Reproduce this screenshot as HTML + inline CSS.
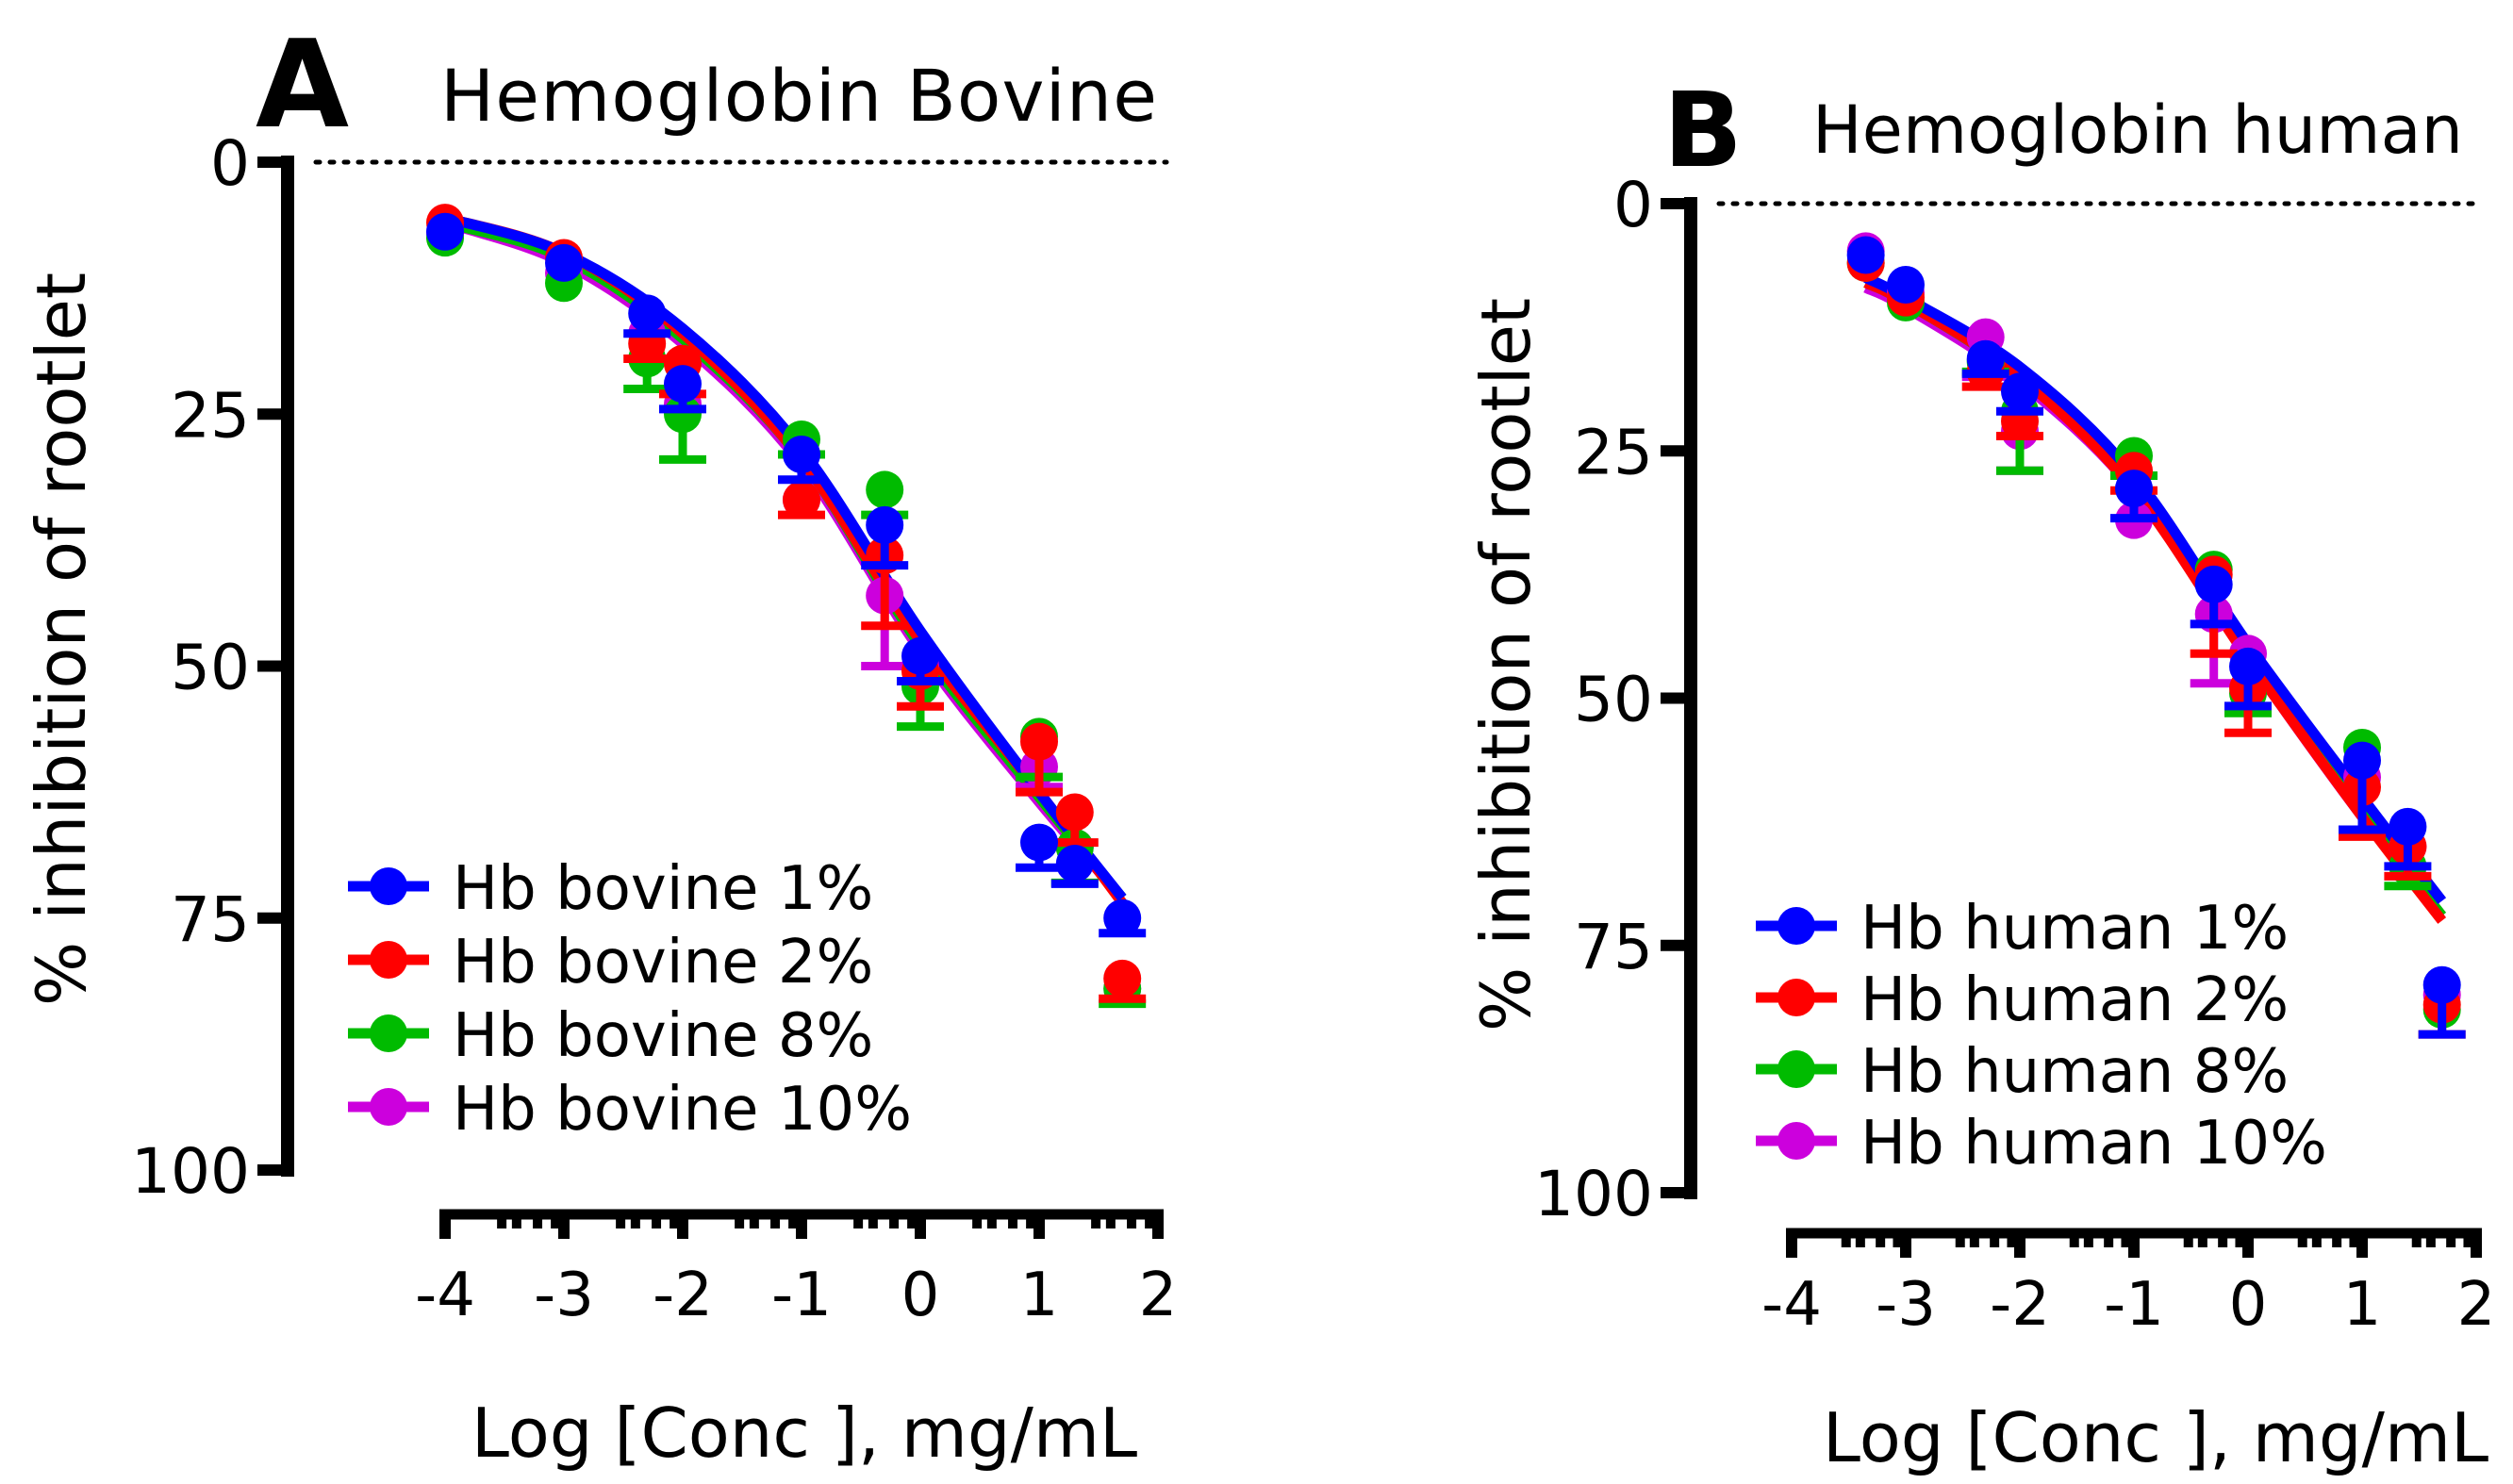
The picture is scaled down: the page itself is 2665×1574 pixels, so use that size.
<!DOCTYPE html>
<html><head><meta charset="utf-8"><style>
html,body{margin:0;padding:0;background:#fff;}
svg{display:block;font-family:"DejaVu Sans","Liberation Sans",sans-serif;}
</style></head><body>
<svg id="chart" width="2665" height="1574" viewBox="0 0 2665 1574" xmlns="http://www.w3.org/2000/svg">
<text x="271" y="134" font-size="128" font-weight="bold">A</text>
<text x="467" y="128" font-size="76" textLength="760">Hemoglobin Bovine</text>
<text x="1764" y="176" font-size="110" font-weight="bold">B</text>
<text x="1922" y="162" font-size="70" textLength="690">Hemoglobin human</text>
</svg>
<script>
// Panel A data
const xA = [-4, -3, -2.3, -2, -1, -0.3, 0, 1, 1.3, 1.7];
const labelsA = ['Hb bovine 1%', 'Hb bovine 2%', 'Hb bovine 8%', 'Hb bovine 10%'];
const a1 = [6.9, 10, 15, 22, 29, 36, 49, 67.5, 69.6, 75];
const a2 = [6, 9.5, 18, 20, 33.5, 39, 50.5, 57.5, 64.5, 81];
const a8 = [7.5, 12, 19.5, 25, 27.5, 32.5, 52, 57, 68, 82];
const a10 = [7, 11, 17, 24, 33.5, 43, 50, 60, 68, 82];
const e1 = [0, 0, 2, 2.5, 2.5, 4, 2.5, 2.5, 2, 1.5];
const e2 = [0, 0, 1.5, 3, 1.5, 7, 3.5, 5, 3, 2];
const e8 = [0, 0, 3, 4.5, 1.5, 2.5, 4, 4, 3.5, 1.5];
const e10 = [0, 0, 0, 0, 0, 7, 0, 2, 0, 0];
const curveXA = [-4, -3, -2, -1, 0, 1, 1.7];
const curveA1 = [5.5, 9, 16.5, 28.5, 46.5, 62.5, 73];
const curveA2 = [5.5, 9, 17, 29.5, 47.5, 62.5, 73.5];
const curveA8 = [6, 9.5, 17.5, 29.5, 48, 63, 73];
const curveA10 = [6, 10, 18, 30, 48.5, 63.5, 73];
// Panel B data
const xB = [-3.35, -3, -2.3, -2, -1, -0.3, 0, 1, 1.4, 1.7];
const labelsB = ['Hb human 1%', 'Hb human 2%', 'Hb human 8%', 'Hb human 10%'];
const b1 = [5.2, 8.2, 15.7, 19, 28.8, 38.5, 46.8, 56.3, 63, 79];
const b2 = [6, 9.5, 17, 22, 27, 37.5, 49, 59, 65, 81];
const b8 = [6, 10, 16, 21, 25.5, 37, 49.5, 55, 67, 81.5];
const b10 = [4.8, 9, 13.5, 23, 32, 41.5, 45.5, 58, 65, 80];
const f1 = [0, 0, 1.5, 2, 3, 4, 4, 7, 4, 5];
const f2 = [0, 0, 1.5, 1.5, 2, 8, 4.5, 5, 3, 3];
const f8 = [0, 0, 1, 6, 2, 0, 2, 0, 2, 0];
const f10 = [0, 0, 4, 4, 0, 7, 0, 0, 0, 0];
const curveXB = [-3.35, -3, -2, -1, 0, 1, 1.7];
const curveB1 = [7.5, 9.5, 16.5, 27.5, 44.5, 60, 70.5];
const curveB2 = [8, 10, 17.5, 29, 46, 62, 72.5];
const curveB8 = [8, 10, 17.5, 28.5, 45.5, 61.5, 72];
const curveB10 = [8.5, 10.5, 18, 29, 46, 62, 72];
const xTicks = [-4, -3, -2, -1, 0, 1, 2];
const minorMult = [3, 4, 6, 8.5];
const yTicks = [0, 25, 50, 75, 100];
const colors = ['#0000ff', '#ff0000', '#00bb00', '#cc00dd'];

const NS = 'http://www.w3.org/2000/svg';
const svg = document.getElementById('chart');
function mk(tag, attrs) {
  const el = document.createElementNS(NS, tag);
  for (const k in attrs) el.setAttribute(k, attrs[k]);
  svg.appendChild(el);
  return el;
}
function smoothPath(pts) {
  let d = 'M' + pts[0][0] + ',' + pts[0][1];
  for (let i = 0; i < pts.length - 1; i++) {
    const p0 = pts[Math.max(0, i - 1)], p1 = pts[i], p2 = pts[i + 1], p3 = pts[Math.min(pts.length - 1, i + 2)];
    const c1x = p1[0] + (p2[0] - p0[0]) / 6, c1y = p1[1] + (p2[1] - p0[1]) / 6;
    const c2x = p2[0] - (p3[0] - p1[0]) / 6, c2y = p2[1] - (p3[1] - p1[1]) / 6;
    d += ' C' + c1x + ',' + c1y + ' ' + c2x + ',' + c2y + ' ' + p2[0] + ',' + p2[1];
  }
  return d;
}

function drawPanel(P) {
  const sx = v => P.x0 + (v - (-4)) * (P.x1 - P.x0) / 6;
  const sy = v => P.y0 + v * (P.y1 - P.y0) / 100;
  const tag = P.id;
  let el = mk('line', {x1: P.ax + 30, x2: P.dotEnd, y1: sy(0), y2: sy(0), stroke: '#000', 'stroke-width': 5, 'stroke-dasharray': '4 11', 'stroke-linecap': 'round'});
  
  
  el = mk('line', {x1: P.ax, x2: P.ax, y1: sy(0) - 7, y2: sy(100) + 7, stroke: '#000', 'stroke-width': 14});
  
  
  yTicks.forEach(t => {
    const tk = mk('line', {x1: P.ax - 32, x2: P.ax, y1: sy(t), y2: sy(t), stroke: '#000', 'stroke-width': 12});
    
    
    const lb = mk('text', {x: P.ax - 40, y: sy(t) + 24, 'font-size': 66, 'text-anchor': 'end'});
    lb.textContent = t;
    
    
  });
  el = mk('text', {x: 0, y: 0, 'font-size': 72, 'text-anchor': 'middle', transform: 'translate(' + P.ytx + ',' + P.yty + ') rotate(-90)'});
  el.textContent = '% inhibition of rootlet';
  
  
  el = mk('line', {x1: sx(-4) - 6, x2: sx(2) + 6, y1: P.axy, y2: P.axy, stroke: '#000', 'stroke-width': 11});
  
  
  for (let d = -4; d < 2; d++) {
    minorMult.forEach(m => {
      const xv = d + Math.log10(m);
      const mt = mk('line', {x1: sx(xv), x2: sx(xv), y1: P.axy, y2: P.axy + 15, stroke: '#000', 'stroke-width': 10});
      
      
    });
  }
  xTicks.forEach(t => {
    const tk = mk('line', {x1: sx(t), x2: sx(t), y1: P.axy, y2: P.axy + 26, stroke: '#000', 'stroke-width': 12});
    
    
    const lb = mk('text', {x: sx(t), y: P.xly, 'font-size': 64, 'text-anchor': 'middle'});
    lb.textContent = t < 0 ? '-' + Math.abs(t) : String(t);
    
    
  });
  el = mk('text', {x: P.xtx, y: P.xty, 'font-size': 72, 'text-anchor': 'middle'});
  el.textContent = 'Log [Conc ], mg/mL';
  
  
  for (let s = 3; s >= 0; s--) {
    const pts = P.curveX.map((x, i) => [sx(x), sy(P.curves[s][i])]);
    const c = mk('path', {d: smoothPath(pts), fill: 'none', stroke: colors[s], 'stroke-width': 11});
    
    
  }
  [3, 2, 1, 0].forEach(s => {
    P.xs.forEach((x, i) => {
      const v = P.series[s][i], e = P.errs[s][i];
      if (e > 0) {
        const eb = mk('path', {d: 'M' + sx(x) + ',' + sy(v) + ' V' + sy(v + e) + ' M' + (sx(x) - 25) + ',' + sy(v + e) + ' H' + (sx(x) + 25), stroke: colors[s], 'stroke-width': 9, fill: 'none'});
        
        
      }
      const pt = mk('circle', {cx: sx(x), cy: sy(v), r: 20, fill: colors[s]});
      
      
    });
  });
  P.labels.forEach((lbl, s) => {
    const ly = P.legY + s * P.legDy;
    const ll = mk('line', {x1: P.legX, x2: P.legX + 86, y1: ly, y2: ly, stroke: colors[s], 'stroke-width': 11});
    
    
    const lc = mk('circle', {cx: P.legX + 43, cy: ly, r: 20, fill: colors[s]});
    
    
    const lt = mk('text', {x: P.legX + 111, y: ly + 24, 'font-size': 64});
    lt.textContent = lbl;
    
    
  });
}

drawPanel({id: 'panel-a', x0: 472, x1: 1228, y0: 172, y1: 1241, ax: 305, axy: 1288, dotEnd: 1237,
  ytx: 90, yty: 678, xly: 1395, xtx: 853, xty: 1545,
  xs: xA, series: [a1, a2, a8, a10], errs: [e1, e2, e8, e10], curveX: curveXA, curves: [curveA1, curveA2, curveA8, curveA10],
  labels: labelsA, legX: 369, legY: 940, legDy: 78});
drawPanel({id: 'panel-b', x0: 1900, x1: 2626, y0: 216, y1: 1265, ax: 1793, axy: 1308, dotEnd: 2625,
  ytx: 1622, yty: 705, xly: 1405, xtx: 2286, xty: 1550,
  xs: xB, series: [b1, b2, b8, b10], errs: [f1, f2, f8, f10], curveX: curveXB, curves: [curveB1, curveB2, curveB8, curveB10],
  labels: labelsB, legX: 1862, legY: 982, legDy: 76});
</script>
</body></html>
